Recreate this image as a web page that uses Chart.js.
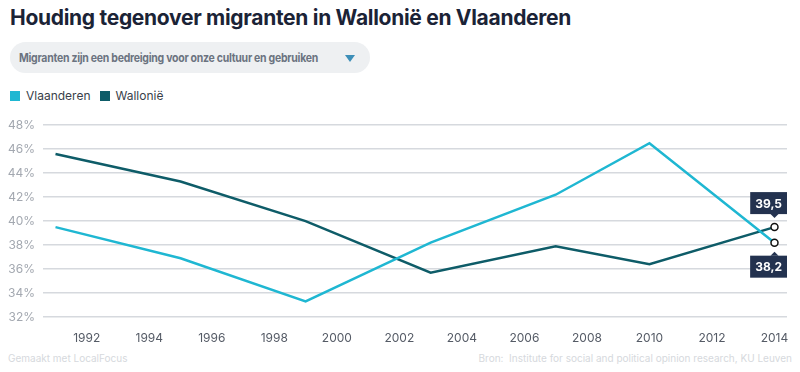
<!DOCTYPE html>
<html>
<head>
<meta charset="utf-8">
<script src="https://cdn.jsdelivr.net/npm/chart.js@4"></script>
<style>
  body { margin: 0; width: 800px; height: 372px; background: #fff; font-family: Inter, "Noto Sans", sans-serif; position: relative; overflow: hidden; }
  h1 { position: absolute; left: 10px; top: 5px; margin: 0; font-size: 21px; font-weight: 700; color: #1b2336; letter-spacing: -0.3px; }
  .pill { position: absolute; left: 10px; top: 42px; width: 360px; height: 31px; border-radius: 16px; background: #eef0f2; }
  .pill span { position: absolute; left: 9px; top: 8px; font-size: 12px; font-weight: 700; color: #6b7380; letter-spacing: -0.3px; white-space: nowrap; transform: scaleX(0.875); transform-origin: left center; }
  .pill i { position: absolute; left: 335px; top: 13px; width: 0; height: 0; border-left: 5px solid transparent; border-right: 5px solid transparent; border-top: 7px solid #3d8fb8; }
  .legend { position: absolute; left: 10px; top: 88px; font-size: 12px; color: #3a3f4a; }
  .legend b { display: inline-block; width: 10px; height: 10px; vertical-align: -1px; margin-right: 6px; }
  .legend span { margin-right: 9px; }
  .foot { position: absolute; top: 352px; font-size: 10px; color: #d6d9dd; }
  #wrap { position: absolute; left: 0; top: 110px; width: 800px; height: 235px; }
</style>
</head>
<body>
<h1>Houding tegenover migranten in Wallonië en Vlaanderen</h1>
<div class="pill"><span>Migranten zijn een bedreiging voor onze cultuur en gebruiken</span><i></i></div>
<div class="legend"><b style="background:#1fb7d2"></b><span>Vlaanderen</span><b style="background:#0e5c68"></b><span>Wallonië</span></div>
<div class="foot" style="left:8px">Gemaakt met LocalFocus</div>
<div class="foot" style="right:8px">Bron:&nbsp; Institute for social and political opinion research, KU Leuven</div>
<div id="wrap"><canvas id="myChart"></canvas></div>
<script>
// data
const years = [1991, 1995, 1999, 2003, 2007, 2010, 2014];
const vlaanderen = [39.5, 36.9, 33.3, 38.2, 42.2, 46.5, 38.2];
const wallonie = [45.6, 43.3, 40.0, 35.7, 37.9, 36.4, 39.5];
const xTicks = [1992, 1994, 1996, 1998, 2000, 2002, 2004, 2006, 2008, 2010, 2012, 2014];

const lastOnly = (c) => c.dataIndex === years.length - 1 ? 3.5 : 0;

// value boxes at the end of each line
const endLabels = {
  id: 'endLabels',
  afterDatasetsDraw(chart) {
    const ctx = chart.ctx;
    const pts = chart.data.datasets.map((ds, i) => {
      const el = chart.getDatasetMeta(i).data[years.length - 1];
      return { x: el.x, y: el.y, v: ds.data[years.length - 1].y };
    });
    const top = Math.max(...pts.map(p => p.v));
    ctx.save();
    ctx.font = 'bold 12px Inter, "Noto Sans", sans-serif';
    ctx.textAlign = 'center';
    ctx.textBaseline = 'middle';
    pts.forEach(p => {
      const txt = p.v.toFixed(1).replace('.', ',');
      const w = ctx.measureText(txt).width + 10, h = 22;
      let cx = Math.min(p.x, chart.chartArea.right - w / 2);
      const above = p.v === top;
      const by = above ? p.y - 13 - h : p.y + 13;
      ctx.fillStyle = '#23324f';
      ctx.fillRect(cx - w / 2, by, w, h);
      ctx.beginPath();
      if (above) {
        ctx.moveTo(p.x - 4, by + h); ctx.lineTo(p.x + 4, by + h); ctx.lineTo(p.x, by + h + 4);
      } else {
        ctx.moveTo(p.x - 4, by); ctx.lineTo(p.x + 4, by); ctx.lineTo(p.x, by - 4);
      }
      ctx.fill();
      ctx.fillStyle = '#fff';
      ctx.fillText(txt, cx, by + h / 2 + 1);
    });
    ctx.restore();
  }
};

const data = {
  datasets: [{
    label: 'Vlaanderen',
    data: years.map((y, i) => ({ x: y, y: vlaanderen[i] })),
    borderColor: '#1fb7d2',
    borderWidth: 2.5,
    pointRadius: lastOnly,
    pointBackgroundColor: '#fff',
    pointBorderColor: '#111',
    pointBorderWidth: 1.5,
    tension: 0
  }, {
    label: 'Wallonië',
    data: years.map((y, i) => ({ x: y, y: wallonie[i] })),
    borderColor: '#0e5c68',
    borderWidth: 2.5,
    pointRadius: lastOnly,
    pointBackgroundColor: '#fff',
    pointBorderColor: '#111',
    pointBorderWidth: 1.5,
    tension: 0
  }]
};

const config = {
  type: 'line',
  data,
  options: {
    responsive: true,
    maintainAspectRatio: false,
    animation: false,
    layout: { padding: { top: 15, right: 13, left: 0, bottom: 0 } },
    plugins: { legend: { display: false }, tooltip: { enabled: false } },
    scales: {
      x: {
        type: 'linear',
        min: 1990.6,
        max: 2014.4,
        afterBuildTicks: (s) => { s.ticks = xTicks.map(v => ({ value: v })); },
        afterFit: (s) => { s.height = 28; },
        grid: { display: false },
        border: { display: false },
        ticks: { color: '#555b66', font: { size: 12, family: 'Inter' }, padding: 6, maxRotation: 0, autoSkip: false, callback: v => String(v) }
      },
      y: {
        min: 32,
        max: 48,
        afterFit: (s) => { s.width = 43; },
        grid: { color: '#d6d9de', lineWidth: 1.5, drawTicks: false },
        border: { display: false },
        ticks: { stepSize: 2, color: '#a3a8b0', font: { size: 12, family: 'Inter' }, padding: 8, callback: v => v + '%' }
      }
    }
  },
  plugins: [endLabels]
};

const myChart = new Chart(document.getElementById('myChart'), config);
</script>
</body>
</html>
